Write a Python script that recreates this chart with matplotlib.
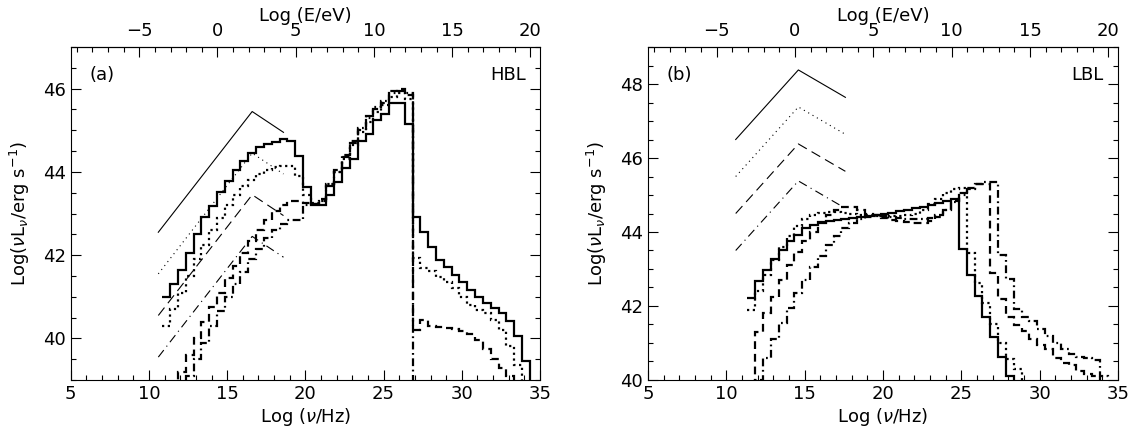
import numpy as np
import matplotlib.pyplot as plt
from matplotlib.ticker import MultipleLocator

# bin width of the histograms (dex in frequency)
bin_width = 0.5

# ---- panel (a) HBL: histograms (first bin left edge, values) ----
# values below the axis floor (38.0) mark where a curve leaves the plot
a_solid_start = 10.85
a_solid = [41.0, 41.3, 41.64, 42.04, 42.50, 42.92, 43.19, 43.51, 43.79, 44.05,
           44.27, 44.45, 44.6, 44.67, 44.72, 44.78, 44.75, 44.39, 43.63, 43.2,
           43.2, 43.45, 43.75, 44.1, 44.3, 44.75, 44.9, 45.25, 45.4, 45.66,
           45.66, 45.15, 42.92, 42.56, 42.2, 41.88, 41.72, 41.52, 41.36, 41.16,
           41.0, 40.85, 40.73, 40.61, 40.41, 40.06, 39.45, 38.0]
a_dot_start = 10.85
a_dot = [40.3, 40.7, 41.1, 41.5, 41.9, 42.25, 42.6, 42.9, 43.2, 43.45,
         43.65, 43.8, 43.95, 44.05, 44.12, 44.15, 44.15, 43.9, 43.45, 43.25,
         43.3, 43.7, 44.0, 44.3, 44.65, 44.95, 45.2, 45.45, 45.6, 45.8,
         45.9, 45.75, 41.92, 41.68, 41.62, 41.48, 41.36, 41.2, 41.0, 40.8,
         40.69, 40.61, 40.45, 40.21, 39.81, 39.37, 38.0]
a_dash_start = 11.35
a_dash = [38.0, 39.2, 39.6, 40.0, 40.4, 40.75, 41.1, 41.45, 41.75, 42.05, 42.35,
          42.6, 42.85, 43.05, 43.2, 43.3, 43.3, 43.25, 43.22, 43.35, 43.7,
          44.05, 44.35, 44.75, 45.0, 45.35, 45.5, 45.65, 45.95, 46.0, 45.85,
          40.2, 40.45, 40.3, 40.27, 40.24, 40.22, 40.18, 40.1, 39.95, 39.75,
          39.5, 39.3, 39.1, 38.0]
a_dashdot_start = 11.85
a_dashdot = [38.0, 39.1, 39.5, 39.9, 40.3, 40.65, 41.0, 41.3, 41.6, 41.9, 42.15,
             42.4, 42.6, 42.75, 42.85, 42.85, 43.2, 43.22, 43.3, 43.65, 44.0,
             44.4, 44.7, 45.05, 45.3, 45.55, 45.7, 45.9, 45.95, 45.9, 38.0]

# broken power laws, panel (a)
a_bpl_x = [10.6, 16.6, 18.6]
a_bpl_solid = [42.55, 45.45, 44.95]
a_bpl_dot = [41.55, 44.45, 43.95]
a_bpl_dash = [40.55, 43.45, 42.95]
a_bpl_dashdot = [39.55, 42.45, 41.95]

# ---- panel (b) LBL ----
b_solid_start = 11.35
b_solid = [42.22, 42.67, 42.98, 43.27, 43.52, 43.75, 43.92, 44.1, 44.19, 44.28,
           44.3, 44.32, 44.34, 44.37, 44.4, 44.43, 44.46, 44.49, 44.52, 44.56,
           44.6, 44.64, 44.68, 44.72, 44.78, 44.83, 44.9, 43.54, 42.85, 42.27,
           41.71, 41.15, 40.61, 40.12, 39.0]
b_dot_start = 11.35
b_dot = [41.9, 42.4, 42.85, 43.25, 43.6, 43.9, 44.15, 44.35, 44.45, 44.52,
         44.55, 44.55, 44.52, 44.5, 44.47, 44.45, 44.43, 44.42, 44.42, 44.42,
         44.45, 44.5, 44.6, 44.75, 44.9, 45.05, 45.15, 45.2, 43.43, 42.63,
         42.09, 41.5, 41.01, 40.56, 40.3, 39.0]
b_dash_start = 11.35
b_dash = [39.0, 41.3, 41.8, 42.25, 42.7, 43.1, 43.45, 43.75, 44.0, 44.25, 44.45,
          44.6, 44.68, 44.68, 44.6, 44.5, 44.45, 44.38, 44.33, 44.3, 44.27,
          44.25, 44.25, 44.3, 44.4, 44.6, 44.85, 45.05, 45.2, 45.3, 45.3,
          42.9, 42.2, 41.7, 41.48, 41.33, 41.12, 40.95, 40.83, 40.6, 40.45,
          40.4, 40.25, 40.15, 40.1, 39.0]
b_dashdot_start = 11.35
b_dashdot = [39.0, 40.0, 40.6, 41.1, 41.55, 41.95, 42.35, 42.7, 43.05, 43.35, 43.65,
             43.9, 44.1, 44.25, 44.35, 44.4, 44.42, 44.42, 44.4, 44.38, 44.36,
             44.35, 44.35, 44.38, 44.45, 44.6, 44.8, 45.0, 45.15, 45.3, 45.35,
             45.35, 43.39, 42.72, 41.91, 41.71, 41.6, 41.37, 41.19, 41.01, 40.83,
             40.7, 40.62, 40.6, 40.55, 40.12, 39.0]

b_bpl_x = [10.6, 14.6, 17.6]
b_bpl_solid = [46.5, 48.38, 47.64]
b_bpl_dot = [45.5, 47.38, 46.64]
b_bpl_dash = [44.5, 46.38, 45.64]
b_bpl_dashdot = [43.5, 45.38, 44.64]

LOG_H = 14.383  # log10(h / eV s) offset between Hz and eV

plt.rcParams['font.family'] = 'DejaVu Sans'
plt.rcParams['mathtext.fontset'] = 'dejavusans'

fig = plt.figure(figsize=(11.35, 4.46), dpi=100)

thick_styles = ['-', (0, (1, 1.6)), (0, (3.5, 2.2)), (0, (3.5, 1.6, 0.8, 1.6))]
thin_styles = ['-', (0, (1, 3.5)), (0, (9, 5)), (0, (8, 4, 1, 4))]


def stairs(ax, start, vals, ls):
    edges = start + bin_width * np.arange(len(vals) + 1)
    ax.stairs(vals, edges, baseline=None, fill=False, color='black',
              linewidth=1.6, linestyle=ls)


def panel(rect, hists, bpl_x, bpls, ylim, yticks, tag, name):
    ax = fig.add_axes(rect)
    for (start, vals), ls in zip(hists, thick_styles):
        stairs(ax, start, vals, ls)
    for yv, ls in zip(bpls, thin_styles):
        ax.plot(bpl_x, yv, color='black', linewidth=0.8, linestyle=ls)
    ax.set_xlim(5, 35)
    ax.set_ylim(*ylim)
    ax.xaxis.set_major_locator(MultipleLocator(5))
    ax.xaxis.set_minor_locator(MultipleLocator(1))
    ax.set_yticks(yticks)
    ax.yaxis.set_minor_locator(MultipleLocator(0.5))
    ax.tick_params(which='both', direction='in', right=True, labelsize=13,
                   width=0.8)
    ax.tick_params(which='major', length=7)
    ax.tick_params(which='minor', length=3.5)
    for s in ax.spines.values():
        s.set_linewidth(0.8)
    ax.set_xlabel(r'Log ($\nu$/Hz)', fontsize=13, labelpad=2)
    ax.set_ylabel(r'Log($\nu$L$_\nu$/erg s$^{-1}$)', fontsize=13, labelpad=8)
    top = ax.secondary_xaxis('top', functions=(lambda x: x - LOG_H,
                                               lambda e: e + LOG_H))
    top.xaxis.set_major_locator(MultipleLocator(5))
    top.xaxis.set_minor_locator(MultipleLocator(1))
    top.tick_params(which='both', direction='in', labelsize=13, width=0.8,
                    pad=5)
    top.tick_params(which='major', length=7)
    top.tick_params(which='minor', length=3.5)
    top.set_xlabel('Log (E/eV)', fontsize=13, labelpad=1)
    ax.text(0.04, 0.915, tag, transform=ax.transAxes, fontsize=13,
            va='center', ha='left')
    ax.text(0.97, 0.915, name, transform=ax.transAxes, fontsize=13,
            va='center', ha='right')
    return ax


panel([0.0623, 0.148, 0.4135, 0.7466],
      [(a_solid_start, a_solid), (a_dot_start, a_dot),
       (a_dash_start, a_dash), (a_dashdot_start, a_dashdot)],
      a_bpl_x, [a_bpl_solid, a_bpl_dot, a_bpl_dash, a_bpl_dashdot],
      (39, 47), [40, 42, 44, 46], '(a)', 'HBL')

panel([0.5709, 0.148, 0.4141, 0.7466],
      [(b_solid_start, b_solid), (b_dot_start, b_dot),
       (b_dash_start, b_dash), (b_dashdot_start, b_dashdot)],
      b_bpl_x, [b_bpl_solid, b_bpl_dot, b_bpl_dash, b_bpl_dashdot],
      (40, 49), [40, 42, 44, 46, 48], '(b)', 'LBL')

fig.savefig('out.png', dpi=100)
